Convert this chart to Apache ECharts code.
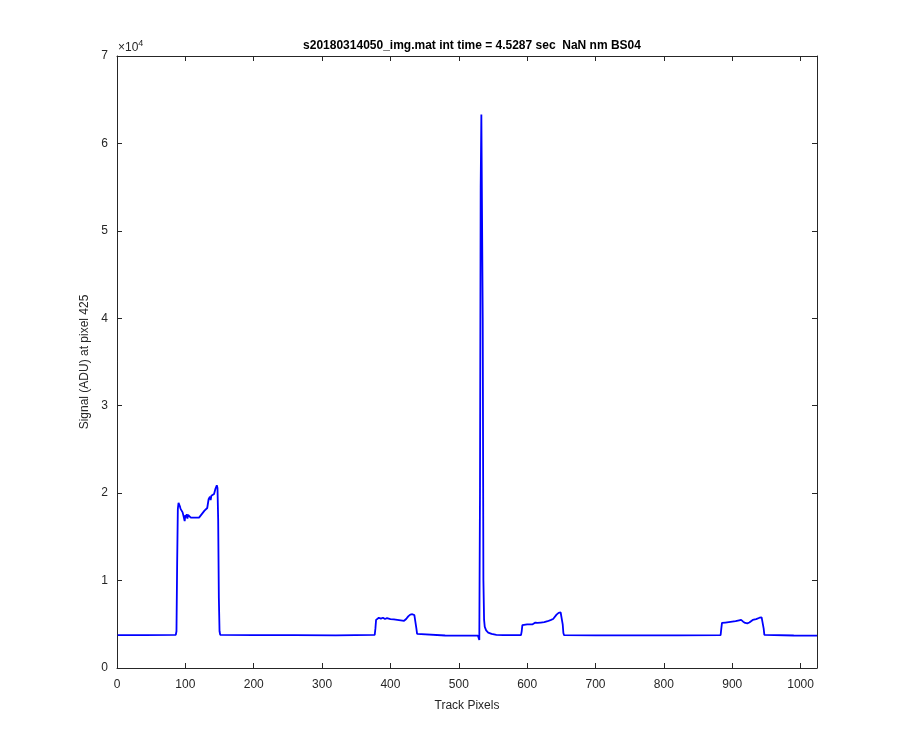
<!DOCTYPE html>
<html>
<head>
<meta charset="utf-8">
<script src="https://cdn.jsdelivr.net/npm/echarts@6/dist/echarts.min.js"></script>
<style>html,body{margin:0;padding:0;background:#fff}#c{width:900px;height:750px}</style>
</head>
<body>
<div id="c"></div>
<script>
const titleText = 's20180314050_img.mat int time = 4.5287 sec  NaN nm BS04';
const xLabel = 'Track Pixels';
const yLabel = 'Signal (ADU) at pixel 425';
const xTicks = [0,100,200,300,400,500,600,700,800,900,1000];
const yTicks = [0,1,2,3,4,5,6,7];

const trackPixel = [
  1, 40, 86, 87, 88, 89, 90, 91, 92, 93, 94, 95, 96, 97, 98, 99, 100, 101, 102, 103, 104, 105, 106, 108, 110, 112, 114, 116, 118, 120, 122, 124, 126, 128, 130, 132, 134, 136, 137, 138, 140, 142, 144, 146, 147, 148, 149, 150, 151,
  200, 260, 320, 377, 378, 379, 380, 383, 386, 389, 392, 395, 400, 405, 410, 415, 420, 423, 426, 429, 432, 435, 437, 438, 439, 440,
  480, 528, 529, 530, 531, 532, 533, 534, 535, 536, 537, 538, 540, 543, 548, 555, 565,
  591, 592, 593, 594, 600, 605, 608, 610, 612, 615, 620, 625, 630, 635, 638, 640, 643, 646, 649, 651, 652, 653, 654,
  700, 760, 820, 883, 884, 885, 886, 890, 895, 900, 905, 910, 913, 916, 919, 922, 925, 930, 935, 940, 943, 945, 946, 947, 948,
  990, 1024
];
const signal = [
  3750, 3760, 3800, 4200, 12000, 18200, 18900, 18800, 18500, 18200, 18000, 18300, 17800, 17600, 17900, 16800, 17500, 17200, 17600, 17100, 17500, 17300, 17400, 17200, 17300, 17200, 17400, 17200, 17300, 17200, 17400, 17600, 17400, 18000, 17800, 18300, 19300, 19600, 19200, 19700, 19500, 19900, 20500, 20900, 20600, 17000, 8000, 4200, 3800,
  3760, 3750, 3740, 3800, 4500, 5500, 5700, 5750, 5650, 5750, 5600, 5700, 5600, 5550, 5500, 5450, 5400, 5600, 5900, 6100, 6150, 6050, 6000, 4500, 3900, 3750,
  3720, 3700, 3500, 3200, 20000, 55000, 63300, 63200, 40000, 10000, 5500, 4700, 4300, 4050, 3900, 3800, 3750,
  3750, 4200, 4900, 5000, 5000, 5000, 5000, 5100, 5200, 5150, 5200, 5250, 5350, 5500, 5600, 5700, 6100, 6300, 6350, 6200, 5000, 4000, 3750,
  3740, 3740, 3730, 3750, 4500, 5150, 5200, 5200, 5250, 5300, 5350, 5450, 5500, 5300, 5150, 5100, 5200, 5500, 5600, 5750, 5800, 5800, 4500, 3800, 3750,
  3720, 3700
];

const FONT = '"Liberation Sans", Arial, Helvetica, sans-serif';
const AX = '#262626';
const chart = echarts.init(document.getElementById('c'));
const pts = trackPixel.map((x, i) => [x, signal[i]]);
const gridL = 117, gridR = 83, gridT = 56, gridB = 82;
const tickStyle = { show: true, inside: true, length: 5, lineStyle: { color: AX, width: 1 } };
const lineStyleAx = { show: true, onZero: false, lineStyle: { color: AX, width: 1 } };

chart.setOption({
  backgroundColor: '#fff',
  animation: false,
  title: {
    text: titleText, left: gridL + (900 - gridL - gridR) / 2, top: 35, textAlign: 'center',
    textStyle: { fontFamily: FONT, fontSize: 12, fontWeight: 'bold', color: '#000' }
  },
  graphic: [{
    type: 'text', left: 118, top: 39,
    style: {
      text: '{a|×10}{b|4}',
      rich: {
        a: { fontFamily: FONT, fontSize: 12, fill: AX },
        b: { fontFamily: FONT, fontSize: 9, fill: AX, verticalAlign: 'top', padding: [0,0,8,0] }
      }
    }
  }],
  grid: { left: gridL, right: gridR, top: gridT, bottom: gridB, containLabel: false },
  xAxis: [{
    type: 'value', min: 0, max: 1024, interval: 100, position: 'bottom',
    name: xLabel, nameLocation: 'middle', nameGap: 32,
    nameTextStyle: { fontFamily: FONT, fontSize: 12, color: AX },
    axisLine: lineStyleAx, axisTick: tickStyle,
    axisLabel: { fontFamily: FONT, fontSize: 12, color: AX, margin: 11,
      customValues: xTicks, formatter: v => String(v) },
    splitLine: { show: false }
  }, {
    type: 'value', min: 0, max: 1024, interval: 100, position: 'top',
    axisLine: lineStyleAx, axisTick: tickStyle,
    axisLabel: { show: false }, splitLine: { show: false }
  }],
  yAxis: [{
    type: 'value', min: 0, max: 70000, interval: 10000, position: 'left',
    name: yLabel, nameLocation: 'middle', nameGap: 21, nameRotate: 90,
    nameTextStyle: { fontFamily: FONT, fontSize: 12, color: AX },
    axisLine: lineStyleAx, axisTick: tickStyle,
    axisLabel: { fontFamily: FONT, fontSize: 12, color: AX, margin: 9,
      formatter: v => String(yTicks[Math.round(v / 10000)]) },
    splitLine: { show: false }
  }, {
    type: 'value', min: 0, max: 70000, interval: 10000, position: 'right',
    axisLine: lineStyleAx, axisTick: tickStyle,
    axisLabel: { show: false }, splitLine: { show: false }
  }],
  series: [{
    type: 'line', xAxisIndex: 0, yAxisIndex: 0, data: pts, showSymbol: false, symbol: 'none',
    lineStyle: { color: '#0000ff', width: 1.8 }, clip: true
  }]
});
</script>
</body>
</html>
